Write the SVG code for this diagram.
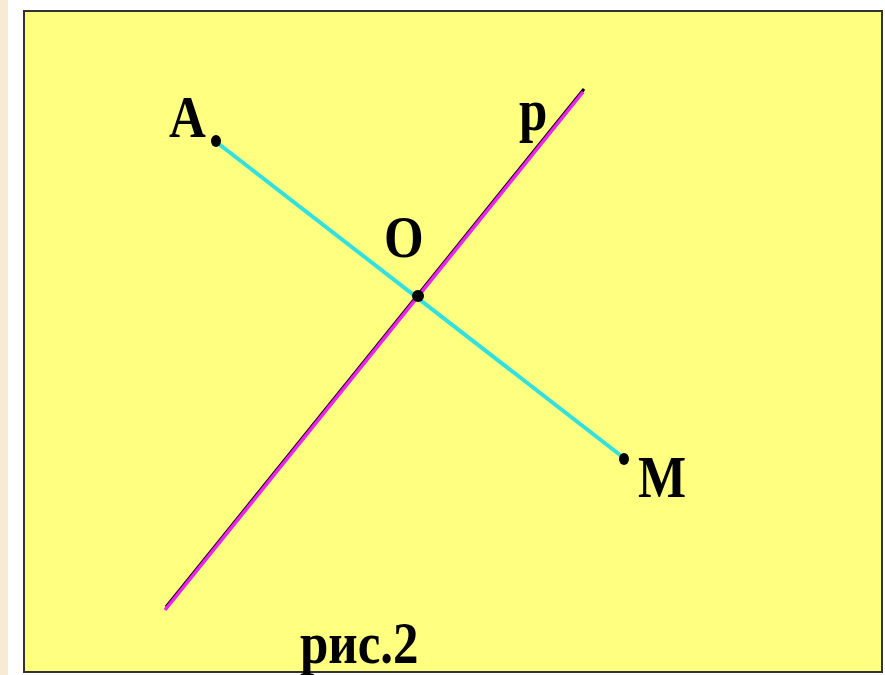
<svg xmlns="http://www.w3.org/2000/svg" width="885" height="675" viewBox="0 0 885 675">
<style>
.lbl{font-family:"Liberation Serif","Times New Roman",serif;font-weight:bold;font-size:51px;fill:#000}
.pt{fill:#000}
</style>
<rect x="0" y="0" width="885" height="675" fill="#ffffff"/>
<rect x="0" y="0" width="8" height="675" fill="#f8ebd6"/>
<rect id="frame" x="24" y="11" width="858" height="661" fill="#ffff80" stroke="#333333" stroke-width="2"/>
<g id="connectors">
<line x1="584" y1="89" x2="166" y2="607" stroke="#000" stroke-width="3"/>
<line x1="583" y1="92" x2="165" y2="610" stroke="#ee22ee" stroke-width="3.5"/>
<line x1="215" y1="141" x2="624" y2="458" stroke="#33e0e0" stroke-width="4"/>
</g>
<g id="A"><ellipse class="pt" cx="216" cy="141" rx="5" ry="6"/><text class="lbl" transform="translate(169,137) scale(1,1.15)">A</text></g>
<g id="O"><circle class="pt" cx="418" cy="296" r="6"/><text class="lbl" transform="translate(384,257) scale(1,1.15)">O</text></g>
<g id="M"><ellipse class="pt" cx="624" cy="459" rx="5" ry="6"/><text class="lbl" transform="translate(638,497) scale(1,1.15)">M</text></g>
<g id="p"><text class="lbl" transform="translate(519,130) scale(1,1.15)">p</text></g>
<g id="caption"><text class="lbl" transform="translate(300,663) scale(1,1.15)">рис.2</text></g>
</svg>
